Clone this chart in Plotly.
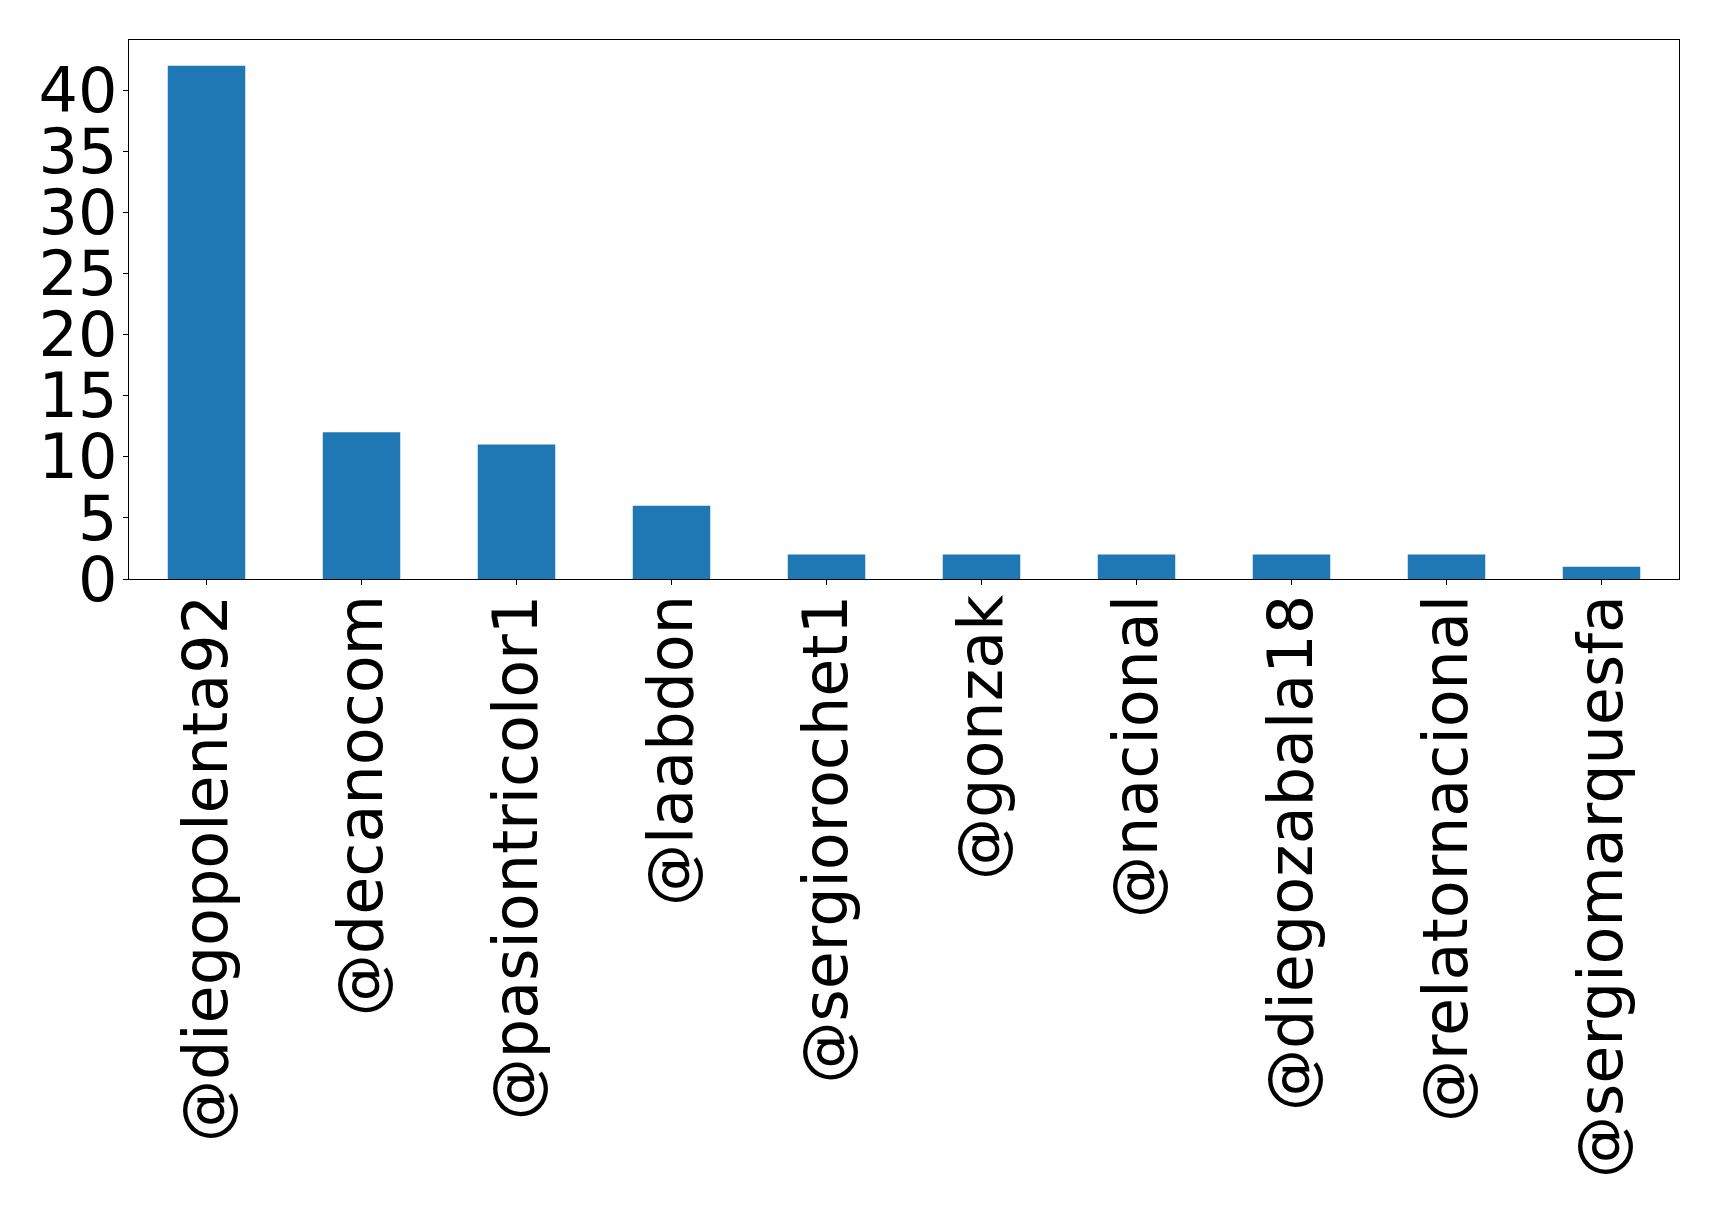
import plotly.graph_objects as go

users = ["@diegopolenta92", "@decanocom", "@pasiontricolor1", "@laabdon",
         "@sergiorochet1", "@gonzak", "@nacional", "@diegozabala18",
         "@relatornacional", "@sergiomarquesfa"]
counts = [42, 12, 11, 6, 2, 2, 2, 2, 2, 1]
ytick_vals = [0, 5, 10, 15, 20, 25, 30, 35, 40]

xpos = list(range(len(users)))

fig = go.Figure(go.Bar(x=xpos, y=counts, width=0.5, marker=dict(color="#1f77b4", line=dict(width=0))))

font = dict(family="DejaVu Sans", size=62, color="black")
fig.update_layout(
    width=1719, height=1216,
    margin=dict(l=129, r=40, t=40, b=637, autoexpand=False),
    plot_bgcolor="white", paper_bgcolor="white",
    showlegend=False,
    font=font,
)
fig.update_xaxes(range=[-0.5, 9.5], tickmode="array", tickvals=xpos, ticktext=users,
                 tickangle=-90, showline=True, linecolor="black", linewidth=1.2, mirror=True,
                 ticks="outside", ticklen=5, tickcolor="black", showgrid=False, zeroline=False,
                 tickfont=font, ticklabelstandoff=-15, automargin=False)
fig.update_yaxes(range=[0, 44.1], tickmode="array", tickvals=ytick_vals,
                 showline=True, linecolor="black", linewidth=1.2, mirror=True,
                 ticks="outside", ticklen=5, tickcolor="black", showgrid=False, zeroline=False,
                 tickfont=font, ticklabelstandoff=-7, automargin=False)

fig.write_html("out.html", config={"displayModeBar": False},
               post_script="document.body.style.margin='0px';")
